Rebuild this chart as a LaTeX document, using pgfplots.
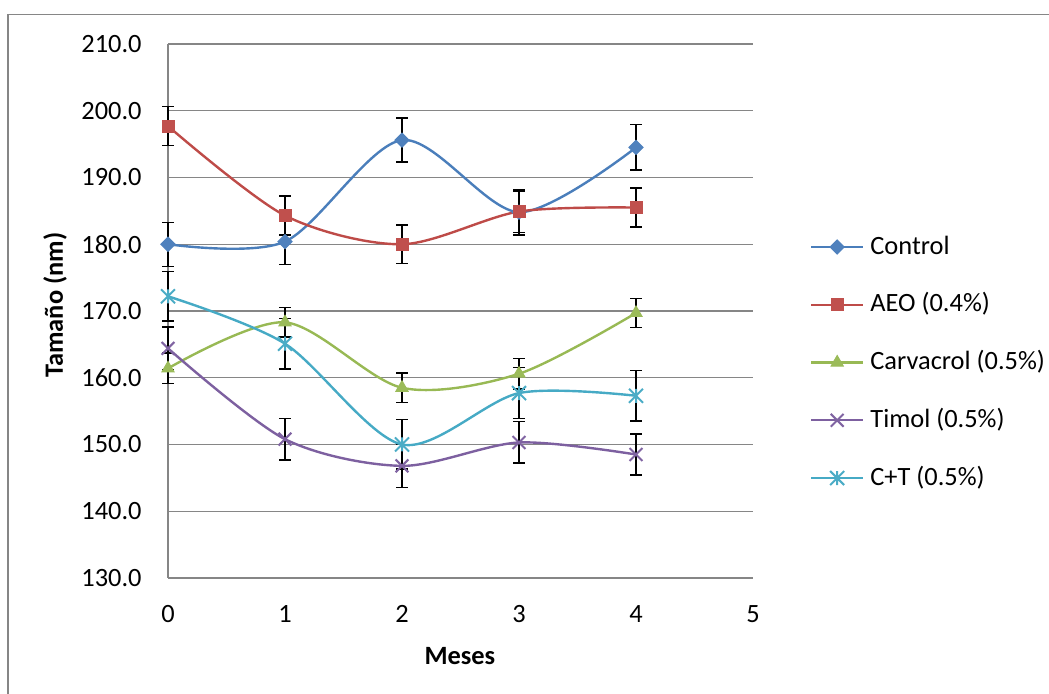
\documentclass[border=0pt]{standalone}
\usepackage{fontspec}
\setmainfont{Carlito}
\usepackage{pgfplots}
\usepackage{pgfplotstable}
\pgfplotsset{compat=1.18}

\newcommand\chartfont{\fontsize{13.2pt}{15.8pt}\selectfont}

\definecolor{gridgrey}{HTML}{868686}
\definecolor{ctrlLine}{HTML}{4A7EBB}\definecolor{ctrlFill}{HTML}{4F81BD}
\definecolor{aeoLine}{HTML}{BE4B48}\definecolor{aeoFill}{HTML}{C0504D}
\definecolor{carLine}{HTML}{98B954}\definecolor{carFill}{HTML}{9BBB59}
\definecolor{timLine}{HTML}{7D60A0}\definecolor{timFill}{HTML}{8064A2}
\definecolor{ctLine}{HTML}{46AAC5}\definecolor{ctFill}{HTML}{4BACC6}

% diagonal cross reaching the corners of the mark box
\pgfdeclareplotmark{xcross}{%
  \pgfpathmoveto{\pgfqpoint{-\pgfplotmarksize}{-\pgfplotmarksize}}%
  \pgfpathlineto{\pgfqpoint{\pgfplotmarksize}{\pgfplotmarksize}}%
  \pgfpathmoveto{\pgfqpoint{-\pgfplotmarksize}{\pgfplotmarksize}}%
  \pgfpathlineto{\pgfqpoint{\pgfplotmarksize}{-\pgfplotmarksize}}%
  \pgfusepathqstroke}
% cross plus a vertical bar
\pgfdeclareplotmark{xstar}{%
  \pgfpathmoveto{\pgfqpoint{-\pgfplotmarksize}{-\pgfplotmarksize}}%
  \pgfpathlineto{\pgfqpoint{\pgfplotmarksize}{\pgfplotmarksize}}%
  \pgfpathmoveto{\pgfqpoint{-\pgfplotmarksize}{\pgfplotmarksize}}%
  \pgfpathlineto{\pgfqpoint{\pgfplotmarksize}{-\pgfplotmarksize}}%
  \pgfpathmoveto{\pgfqpoint{0pt}{-\pgfplotmarksize}}%
  \pgfpathlineto{\pgfqpoint{0pt}{\pgfplotmarksize}}%
  \pgfusepathqstroke}

% month, mean size (nm), standard deviation
\pgfplotstableread{
x y e
0 180.0 3.3
1 180.4 3.4
2 195.6 3.3
3 184.8 3.4
4 194.5 3.4
}\tabControl
\pgfplotstableread{
x y e
0 197.7 2.9
1 184.3 2.9
2 180.0 2.9
3 184.9 3.1
4 185.5 2.9
}\tabAEO
\pgfplotstableread{
x y e
0 161.4 2.3
1 168.3 2.2
2 158.5 2.2
3 160.6 2.3
4 169.7 2.2
}\tabCarvacrol
\pgfplotstableread{
x y e
0 164.4 3.2
1 150.8 3.1
2 146.8 3.2
3 150.3 3.1
4 148.5 3.1
}\tabTimol
\pgfplotstableread{
x y e
0 172.2 3.7
1 165.1 3.8
2 150.0 3.7
3 157.7 3.8
4 157.3 3.8
}\tabCT

\begin{document}
\chartfont
\begin{tikzpicture}
\begin{axis}[
  scale only axis,
  width=292.5pt, height=267pt,
  xmin=0, xmax=5, ymin=130, ymax=210,
  xtick={0,1,2,3,4,5},
  ytick={130,140,...,210},
  axis lines*=left,
  axis line style={-, draw=gridgrey, line width=0.7pt},
  major tick length=0pt,
  ymajorgrids,
  grid style={gridgrey, line width=0.7pt},
  clip=false,
  /pgf/number format/assume math mode=true,
  yticklabel style={/pgf/number format/fixed, /pgf/number format/fixed zerofill,
    /pgf/number format/precision=1},
  every tick label/.append style={font=\chartfont, inner sep=0pt},
  yticklabel style={anchor=east, xshift=-13pt},
  xticklabel style={anchor=north, yshift=-13.5pt},
  xlabel={\bfseries Meses},
  ylabel={\bfseries Tamaño (nm)},
  label style={font=\chartfont},
  xlabel style={at={(rel axis cs:0.499,-0.146)}, anchor=center},
  ylabel style={at={(rel axis cs:-0.193,0.511)}, anchor=center},
  legend cell align=left,
  legend style={draw=none, fill=none, font=\chartfont,
    at={(rel axis cs:1.0974,0.4035)}, anchor=west,
    inner sep=0pt, outer sep=0pt, row sep=17.9pt,
    nodes={inner sep=0pt},
    /tikz/every odd column/.append style={column sep=3pt},
    /tikz/every even column/.append style={text height=9pt, text depth=3pt}},
  legend image code/.code={%
    \draw[mark repeat=2, mark phase=2] plot coordinates {(0pt,0pt) (13pt,0pt) (26pt,0pt)};},
  every axis plot/.append style={line width=1.2pt, smooth},
  error bars/y dir=both,
  error bars/y explicit,
  error bars/error bar style={black, line width=0.7pt, solid},
  error bars/error mark options={black, rotate=90, mark size=2.8pt, line width=0.7pt},
]
\addplot[ctrlLine, mark=square*, mark size=2.5pt,
  mark options={rotate=45, fill=ctrlFill, draw=ctrlFill, line width=0.5pt}]
  table[x=x, y=y, y error=e] {\tabControl};
\addlegendentry{Control}
\addplot[aeoLine, mark=square*, mark size=3pt,
  mark options={fill=aeoFill, draw=aeoFill, line width=0.5pt}]
  table[x=x, y=y, y error=e] {\tabAEO};
\addlegendentry{AEO (0.4\%)}
\addplot[carLine, mark=triangle*, mark size=3.5pt,
  mark options={fill=carFill, draw=carFill, line width=0.5pt}]
  table[x=x, y=y, y error=e] {\tabCarvacrol};
\addlegendentry{Carvacrol (0.5\%)}
\addplot[timLine, mark=xcross, mark size=3.2pt,
  mark options={draw=timFill, line width=1pt}]
  table[x=x, y=y, y error=e] {\tabTimol};
\addlegendentry{Timol (0.5\%)}
\addplot[ctLine, mark=xstar, mark size=3.5pt,
  mark options={draw=ctFill, line width=1pt}]
  table[x=x, y=y, y error=e] {\tabCT};
\addlegendentry{C+T (0.5\%)}

\coordinate (bbsw) at (rel axis cs:-0.28718,-0.21723);
\coordinate (bbne) at (rel axis cs:1.50598,1.08240);
\coordinate (frame) at (rel axis cs:-0.27350,1.05524);
\end{axis}
\pgfresetboundingbox
\path[use as bounding box] (bbsw) rectangle (bbne);
\draw[gridgrey, line width=0.9pt]
  ([yshift=-6pt]frame |- bbsw) -- (frame) -- ([xshift=6pt]frame -| bbne);
\end{tikzpicture}
\end{document}
